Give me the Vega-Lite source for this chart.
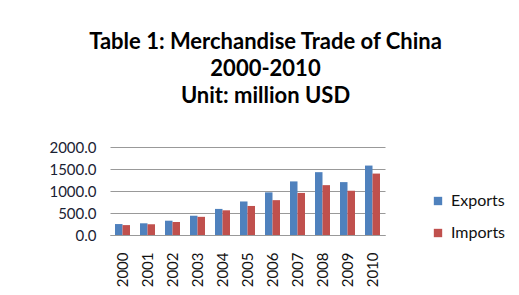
{
  "$schema": "https://vega.github.io/schema/vega-lite/v6.json",
  "autosize": "none",
  "width": 275,
  "height": 88,
  "padding": {"left": 110, "top": 147, "right": 134, "bottom": 60},
  "background": "white",
  "config": {"view": {"stroke": null}, "font": "Lato"},
  "title": {
    "text": ["Table 1: Merchandise Trade of China", "2000-2010", "Unit: million USD"],
    "fontSize": 22,
    "fontWeight": "bold",
    "font": "Lato",
    "color": "#000000",
    "lineHeight": 27,
    "anchor": "middle",
    "dx": 18,
    "offset": 32
  },
  "data": {
    "values": [
      {"year": "2000", "type": "Exports", "value": 249},
      {"year": "2000", "type": "Imports", "value": 225},
      {"year": "2001", "type": "Exports", "value": 266},
      {"year": "2001", "type": "Imports", "value": 244},
      {"year": "2002", "type": "Exports", "value": 325},
      {"year": "2002", "type": "Imports", "value": 295},
      {"year": "2003", "type": "Exports", "value": 438},
      {"year": "2003", "type": "Imports", "value": 413},
      {"year": "2004", "type": "Exports", "value": 593},
      {"year": "2004", "type": "Imports", "value": 561},
      {"year": "2005", "type": "Exports", "value": 762},
      {"year": "2005", "type": "Imports", "value": 660},
      {"year": "2006", "type": "Exports", "value": 969},
      {"year": "2006", "type": "Imports", "value": 792},
      {"year": "2007", "type": "Exports", "value": 1218},
      {"year": "2007", "type": "Imports", "value": 956},
      {"year": "2008", "type": "Exports", "value": 1428},
      {"year": "2008", "type": "Imports", "value": 1133},
      {"year": "2009", "type": "Exports", "value": 1202},
      {"year": "2009", "type": "Imports", "value": 1006},
      {"year": "2010", "type": "Exports", "value": 1578},
      {"year": "2010", "type": "Imports", "value": 1396}
    ]
  },
  "mark": {"type": "bar"},
  "encoding": {
    "x": {
      "field": "year",
      "type": "nominal",
      "scale": {"paddingInner": 0.4, "paddingOuter": 0.2},
      "axis": {
        "title": null,
        "labelAngle": 270,
        "labelFontSize": 15,
        "labelColor": "#111111",
        "labelPadding": 17,
        "ticks": false,
        "domainColor": "#999999"
      }
    },
    "xOffset": {"field": "type", "type": "nominal"},
    "y": {
      "field": "value",
      "type": "quantitative",
      "scale": {"domain": [0, 2000]},
      "axis": {
        "title": null,
        "values": [0, 500, 1000, 1500, 2000],
        "format": ".1f",
        "labelFontSize": 15,
        "labelColor": "#1a2233",
        "labelPadding": 14,
        "ticks": false,
        "domain": false,
        "gridColor": "#999999"
      }
    },
    "color": {
      "field": "type",
      "type": "nominal",
      "scale": {"domain": ["Exports", "Imports"], "range": ["#4F81BD", "#C0504D"]},
      "legend": {
        "title": null,
        "orient": "none",
        "legendX": 320,
        "legendY": 46,
        "symbolType": "square",
        "symbolSize": 70,
        "labelFontSize": 16,
        "labelColor": "#111111",
        "rowPadding": 16,
        "labelOffset": 5
      }
    }
  }
}
